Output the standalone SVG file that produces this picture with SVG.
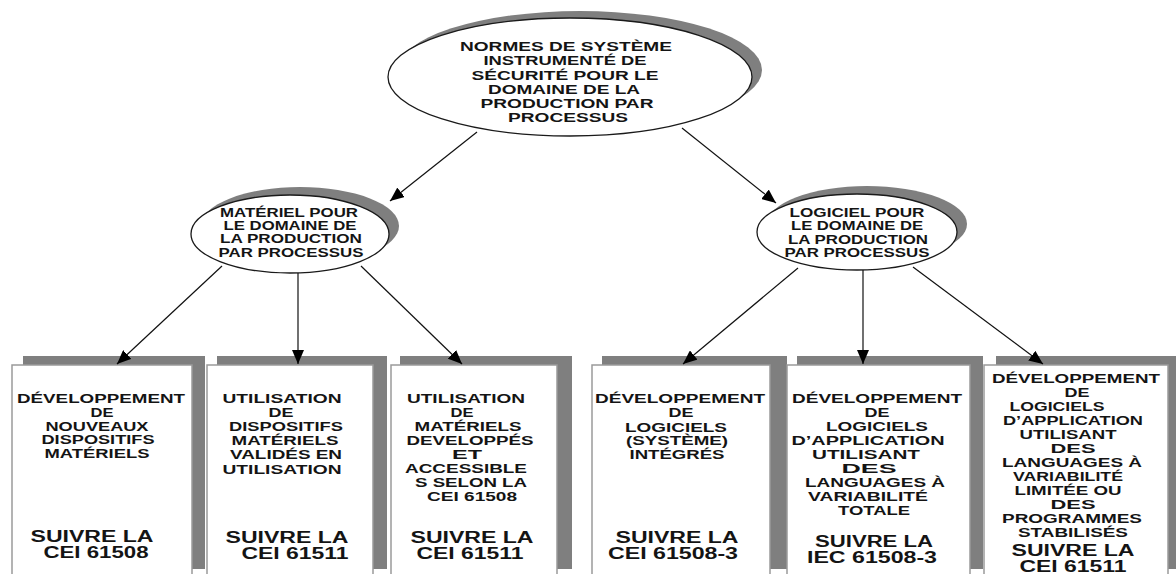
<svg xmlns="http://www.w3.org/2000/svg" width="1176" height="574" viewBox="0 0 1176 574">
<defs>
<style>
.sh{fill:#7f7f7f}
.el{fill:#fff;stroke:#1a1a1a;stroke-width:1.3}
.bx{fill:#fff;stroke:#9a9a9a;stroke-width:1.5}
text{font-family:"Liberation Sans",Arial,sans-serif;font-weight:bold;fill:#141414;text-anchor:middle}
.t1{font-size:13.5px}
.t2{font-size:13px}
.t3{font-size:13.5px}
.t4{font-size:16px}
.cn line{stroke:#111;stroke-width:1.2;marker-end:url(#ah)}
</style>
<marker id="ah" viewBox="0 0 14 12" refX="14" refY="6" markerWidth="14" markerHeight="12" markerUnits="userSpaceOnUse" orient="auto">
<path d="M0,0 L14,6 L0,12 z" fill="#000"/>
</marker>
</defs>
<rect width="1176" height="574" fill="#fff"/>

<g id="root">
<ellipse class="sh" cx="580" cy="70" rx="182" ry="59"/>
<ellipse class="el" cx="570" cy="77" rx="182" ry="59"/>
<text class="t1" x="566" y="51" textLength="212" lengthAdjust="spacingAndGlyphs">NORMES DE SYSTÈME</text>
<text class="t1" x="565" y="65" textLength="163" lengthAdjust="spacingAndGlyphs">INSTRUMENTÉ DE</text>
<text class="t1" x="565" y="80" textLength="187" lengthAdjust="spacingAndGlyphs">SÉCURITÉ POUR LE</text>
<text class="t1" x="564" y="94" textLength="152" lengthAdjust="spacingAndGlyphs">DOMAINE DE LA</text>
<text class="t1" x="567" y="108" textLength="173" lengthAdjust="spacingAndGlyphs">PRODUCTION PAR</text>
<text class="t1" x="568" y="122" textLength="120" lengthAdjust="spacingAndGlyphs">PROCESSUS</text>
</g>

<g id="materiel">
<ellipse class="sh" cx="300" cy="226" rx="99" ry="39"/>
<ellipse class="el" cx="290" cy="234" rx="99" ry="39"/>
<text class="t2" x="289" y="217" textLength="138" lengthAdjust="spacingAndGlyphs">MATÉRIEL POUR</text>
<text class="t2" x="290" y="230" textLength="133" lengthAdjust="spacingAndGlyphs">LE DOMAINE DE</text>
<text class="t2" x="291" y="243" textLength="142" lengthAdjust="spacingAndGlyphs">LA PRODUCTION</text>
<text class="t2" x="291" y="257" textLength="145" lengthAdjust="spacingAndGlyphs">PAR PROCESSUS</text>
</g>

<g id="logiciel">
<ellipse class="sh" cx="867" cy="224" rx="100" ry="38"/>
<ellipse class="el" cx="857" cy="232" rx="100" ry="38"/>
<text class="t2" x="857" y="217" textLength="135" lengthAdjust="spacingAndGlyphs">LOGICIEL POUR</text>
<text class="t2" x="857" y="230" textLength="132" lengthAdjust="spacingAndGlyphs">LE DOMAINE DE</text>
<text class="t2" x="858" y="244" textLength="140" lengthAdjust="spacingAndGlyphs">LA PRODUCTION</text>
<text class="t2" x="857" y="257" textLength="145" lengthAdjust="spacingAndGlyphs">PAR PROCESSUS</text>
</g>

<g id="box1">
<rect class="sh" x="23" y="356" width="182" height="213"/>
<rect class="bx" x="12" y="365" width="180" height="215"/>
<text class="t3" x="101" y="403" textLength="168" lengthAdjust="spacingAndGlyphs">DÉVELOPPEMENT</text>
<text class="t3" x="102" y="417" textLength="23" lengthAdjust="spacingAndGlyphs">DE</text>
<text class="t3" x="97" y="431" textLength="103" lengthAdjust="spacingAndGlyphs">NOUVEAUX</text>
<text class="t3" x="98" y="444" textLength="113" lengthAdjust="spacingAndGlyphs">DISPOSITIFS</text>
<text class="t3" x="97" y="458" textLength="105" lengthAdjust="spacingAndGlyphs">MATÉRIELS</text>
<text class="t4" x="92" y="542" textLength="123" lengthAdjust="spacingAndGlyphs">SUIVRE LA</text>
<text class="t4" x="96" y="558" textLength="105" lengthAdjust="spacingAndGlyphs">CEI 61508</text>
</g>

<g id="box2">
<rect class="sh" x="217" y="356" width="170" height="213"/>
<rect class="bx" x="207" y="365" width="166" height="215"/>
<text class="t3" x="282" y="403" textLength="119" lengthAdjust="spacingAndGlyphs">UTILISATION</text>
<text class="t3" x="281" y="417" textLength="25" lengthAdjust="spacingAndGlyphs">DE</text>
<text class="t3" x="286" y="431" textLength="114" lengthAdjust="spacingAndGlyphs">DISPOSITIFS</text>
<text class="t3" x="285" y="445" textLength="107" lengthAdjust="spacingAndGlyphs">MATÉRIELS</text>
<text class="t3" x="286" y="459" textLength="112" lengthAdjust="spacingAndGlyphs">VALIDÉS EN</text>
<text class="t3" x="282" y="474" textLength="119" lengthAdjust="spacingAndGlyphs">UTILISATION</text>
<text class="t4" x="287" y="543" textLength="123" lengthAdjust="spacingAndGlyphs">SUIVRE LA</text>
<text class="t4" x="295" y="559" textLength="107" lengthAdjust="spacingAndGlyphs">CEI 61511</text>
</g>

<g id="box3">
<rect class="sh" x="400" y="356" width="172" height="213"/>
<rect class="bx" x="391" y="365" width="166" height="215"/>
<text class="t3" x="466" y="403" textLength="118" lengthAdjust="spacingAndGlyphs">UTILISATION</text>
<text class="t3" x="462" y="417" textLength="23" lengthAdjust="spacingAndGlyphs">DE</text>
<text class="t3" x="468" y="431" textLength="107" lengthAdjust="spacingAndGlyphs">MATÉRIELS</text>
<text class="t3" x="470" y="445" textLength="127" lengthAdjust="spacingAndGlyphs">DEVELOPPÉS</text>
<text class="t3" x="467" y="459" textLength="30" lengthAdjust="spacingAndGlyphs">ET</text>
<text class="t3" x="466" y="473" textLength="122" lengthAdjust="spacingAndGlyphs">ACCESSIBLE</text>
<text class="t3" x="471" y="487" textLength="112" lengthAdjust="spacingAndGlyphs">S SELON LA</text>
<text class="t3" x="472" y="501" textLength="90" lengthAdjust="spacingAndGlyphs">CEI 61508</text>
<text class="t4" x="472" y="543" textLength="123" lengthAdjust="spacingAndGlyphs">SUIVRE LA</text>
<text class="t4" x="470" y="559" textLength="107" lengthAdjust="spacingAndGlyphs">CEI 61511</text>
</g>

<g id="box4">
<rect class="sh" x="602" y="356" width="185" height="213"/>
<rect class="bx" x="592" y="365" width="178" height="215"/>
<text class="t3" x="680" y="403" textLength="170" lengthAdjust="spacingAndGlyphs">DÉVELOPPEMENT</text>
<text class="t3" x="681" y="417" textLength="25" lengthAdjust="spacingAndGlyphs">DE</text>
<text class="t3" x="676" y="432" textLength="102" lengthAdjust="spacingAndGlyphs">LOGICIELS</text>
<text class="t3" x="677" y="445" textLength="102" lengthAdjust="spacingAndGlyphs">(SYSTÈME)</text>
<text class="t3" x="677" y="459" textLength="95" lengthAdjust="spacingAndGlyphs">INTÉGRÉS</text>
<text class="t4" x="677" y="543" textLength="123" lengthAdjust="spacingAndGlyphs">SUIVRE LA</text>
<text class="t4" x="673" y="559" textLength="130" lengthAdjust="spacingAndGlyphs">CEI 61508-3</text>
</g>

<g id="box5">
<rect class="sh" x="797" y="356" width="186" height="213"/>
<rect class="bx" x="787" y="365" width="183" height="215"/>
<text class="t3" x="877" y="403" textLength="170" lengthAdjust="spacingAndGlyphs">DÉVELOPPEMENT</text>
<text class="t3" x="877" y="417" textLength="25" lengthAdjust="spacingAndGlyphs">DE</text>
<text class="t3" x="877" y="431" textLength="102" lengthAdjust="spacingAndGlyphs">LOGICIELS</text>
<text class="t3" x="868" y="445" textLength="153" lengthAdjust="spacingAndGlyphs">D’APPLICATION</text>
<text class="t3" x="866" y="459" textLength="108" lengthAdjust="spacingAndGlyphs">UTILISANT</text>
<text class="t3" x="869" y="473" textLength="55" lengthAdjust="spacingAndGlyphs">DES</text>
<text class="t3" x="875" y="487" textLength="140" lengthAdjust="spacingAndGlyphs">LANGUAGES À</text>
<text class="t3" x="868" y="501" textLength="120" lengthAdjust="spacingAndGlyphs">VARIABILITÉ</text>
<text class="t3" x="874" y="515" textLength="72" lengthAdjust="spacingAndGlyphs">TOTALE</text>
<text class="t4" x="874" y="547" textLength="118" lengthAdjust="spacingAndGlyphs">SUIVRE LA</text>
<text class="t4" x="872" y="563" textLength="130" lengthAdjust="spacingAndGlyphs">IEC 61508-3</text>
</g>

<g id="box6">
<rect class="sh" x="996" y="356" width="190" height="213"/>
<rect class="bx" x="984" y="365" width="184" height="215"/>
<text class="t3" x="1076" y="383" textLength="168" lengthAdjust="spacingAndGlyphs">DÉVELOPPEMENT</text>
<text class="t3" x="1077" y="397" textLength="25" lengthAdjust="spacingAndGlyphs">DE</text>
<text class="t3" x="1057" y="411" textLength="95" lengthAdjust="spacingAndGlyphs">LOGICIELS</text>
<text class="t3" x="1073" y="425" textLength="140" lengthAdjust="spacingAndGlyphs">D’APPLICATION</text>
<text class="t3" x="1068" y="439" textLength="97" lengthAdjust="spacingAndGlyphs">UTILISANT</text>
<text class="t3" x="1073" y="453" textLength="45" lengthAdjust="spacingAndGlyphs">DES</text>
<text class="t3" x="1072" y="467" textLength="140" lengthAdjust="spacingAndGlyphs">LANGUAGES À</text>
<text class="t3" x="1068" y="481" textLength="110" lengthAdjust="spacingAndGlyphs">VARIABILITÉ</text>
<text class="t3" x="1068" y="495" textLength="107" lengthAdjust="spacingAndGlyphs">LIMITÉE OU</text>
<text class="t3" x="1073" y="509" textLength="45" lengthAdjust="spacingAndGlyphs">DES</text>
<text class="t3" x="1072" y="523" textLength="140" lengthAdjust="spacingAndGlyphs">PROGRAMMES</text>
<text class="t3" x="1073" y="537" textLength="110" lengthAdjust="spacingAndGlyphs">STABILISÉS</text>
<text class="t4" x="1073" y="556" textLength="123" lengthAdjust="spacingAndGlyphs">SUIVRE LA</text>
<text class="t4" x="1073" y="572" textLength="107" lengthAdjust="spacingAndGlyphs">CEI 61511</text>
</g>

<g id="connectors" class="cn">
<line x1="477" y1="132" x2="390" y2="201"/>
<line x1="682" y1="128" x2="776" y2="203"/>
<line x1="222" y1="266" x2="117" y2="364"/>
<line x1="298" y1="273" x2="298" y2="364"/>
<line x1="361" y1="266" x2="462" y2="364"/>
<line x1="798" y1="268" x2="683" y2="364"/>
<line x1="863" y1="270" x2="863" y2="364"/>
<line x1="913" y1="267" x2="1043" y2="364"/>
</g>
</svg>
